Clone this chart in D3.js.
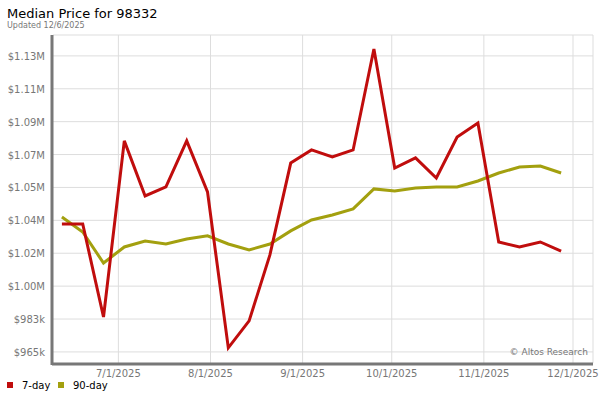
<!DOCTYPE html>
<html><head><meta charset="utf-8">
<script src="https://cdn.jsdelivr.net/npm/d3@7"></script>
<style>body{margin:0;background:#fff;font-family:"DejaVu Sans",sans-serif}</style>
</head><body><div id="chart"></div>
<script>
// weekly points, values in $k
var dates = ["2025-06-12","2025-06-19","2025-06-26","2025-07-03","2025-07-10","2025-07-17","2025-07-24","2025-07-31",
  "2025-08-07","2025-08-14","2025-08-21","2025-08-28","2025-09-04","2025-09-11","2025-09-18","2025-09-25",
  "2025-10-02","2025-10-09","2025-10-16","2025-10-23","2025-10-30","2025-11-06","2025-11-13","2025-11-20","2025-11-27"];
var sevenDay = [1034.2,1034.2,983.9,1079.2,1049.4,1054.3,1079.2,1051.6,967.2,981.8,1017.5,1067.2,1074.3,1070.5,1074.3,1128.9,
  1064.5,1070,1059.1,1081.3,1088.9,1024.5,1021.8,1024.5,1019.6];
var ninetyDay = [1038,1029.9,1013.1,1021.8,1025,1023.4,1026.1,1027.8,1023.4,1020.2,1023.4,1030.5,1036.4,1039.1,1042.4,1053.2,
  1052.1,1053.7,1054.3,1054.3,1057.5,1061.8,1065.1,1065.6,1061.8];
var yTicks = [965,982.8,1000.6,1018.4,1036.2,1054,1071.8,1089.6,1107.4,1125.2];
var yLabels = ["$965k","$983k","$1.00M","$1.02M","$1.04M","$1.05M","$1.07M","$1.09M","$1.11M","$1.13M"];
var xTicks = ["2025-07-01","2025-08-01","2025-09-01","2025-10-01","2025-11-01","2025-12-01"];
var xLabels = ["7/1/2025","8/1/2025","9/1/2025","10/1/2025","11/1/2025","12/1/2025"];

var W = 600, H = 400;
var margin = {top: 35, right: 7, bottom: 37, left: 53};
var width = W - margin.left - margin.right;
var height = H - margin.top - margin.bottom;
var parse = d3.timeParse("%Y-%m-%d");

var svg = d3.select("#chart").append("svg").attr("width", W).attr("height", H);
svg.append("text").attr("x", 7).attr("y", 18).style("font-size", "13px").text("Median Price for 98332");
svg.append("text").attr("x", 7).attr("y", 28).style("font-size", "8px").attr("fill", "#777").text("Updated 12/6/2025");

var g = svg.append("g").attr("transform", `translate(${margin.left},${margin.top})`);

var x = d3.scaleTime().domain([parse("2025-06-09"), parse("2025-12-01")]).range([0, 520]);
var y = d3.scaleLinear().domain([959, 1136.5]).range([height, 0]);

// grid
g.selectAll(".hg").data(yTicks).enter().append("line")
  .attr("x1", 0).attr("x2", width).attr("y1", d => y(d)).attr("y2", d => y(d))
  .attr("stroke", "#ddd");
g.append("line").attr("x1", 0).attr("x2", width).attr("y1", 0).attr("y2", 0).attr("stroke", "#ddd");
g.selectAll(".vg").data(xTicks).enter().append("line")
  .attr("x1", d => x(parse(d))).attr("x2", d => x(parse(d))).attr("y1", 0).attr("y2", height)
  .attr("stroke", "#ddd");
g.append("line").attr("x1", width).attr("x2", width).attr("y1", 0).attr("y2", height).attr("stroke", "#ddd");

// tick labels
g.selectAll(".yl").data(yTicks).enter().append("text")
  .attr("x", -8).attr("y", d => y(d) + 4).attr("text-anchor", "end")
  .style("font-size", "10px").attr("fill", "#777").text((d, i) => yLabels[i]);
g.selectAll(".xl").data(xTicks).enter().append("text")
  .attr("x", d => x(parse(d))).attr("y", height + 14).attr("text-anchor", "middle")
  .style("font-size", "10px").attr("fill", "#777").text((d, i) => xLabels[i]);

// axis lines
g.append("line").attr("x1", -1).attr("x2", -1).attr("y1", 0).attr("y2", height + 2).attr("stroke", "#777").attr("stroke-width", 3);
g.append("line").attr("x1", -1).attr("x2", width).attr("y1", height + 1).attr("y2", height + 1).attr("stroke", "#777").attr("stroke-width", 3);

g.append("text").attr("x", width - 5).attr("y", height - 8).attr("text-anchor", "end")
  .style("font-size", "9px").attr("fill", "#777").text("\u00a9 Altos Research");

var line = d3.line().x((d, i) => x(parse(dates[i]))).y(d => y(d));
g.append("path").datum(ninetyDay).attr("d", line).attr("fill", "none").attr("stroke", "#a3a00f").attr("stroke-width", 3);
g.append("path").datum(sevenDay).attr("d", line).attr("fill", "none").attr("stroke", "#c00d0d").attr("stroke-width", 3);

// legend
var leg = [["7-day", "#c00d0d", 7], ["90-day", "#a3a00f", 58]];
leg.forEach(function(l) {
  svg.append("rect").attr("x", l[2]).attr("y", 382).attr("width", 6).attr("height", 6).attr("fill", l[1]);
  svg.append("text").attr("x", l[2] + 15).attr("y", 389).style("font-size", "10px").text(l[0]);
});
</script></body></html>
